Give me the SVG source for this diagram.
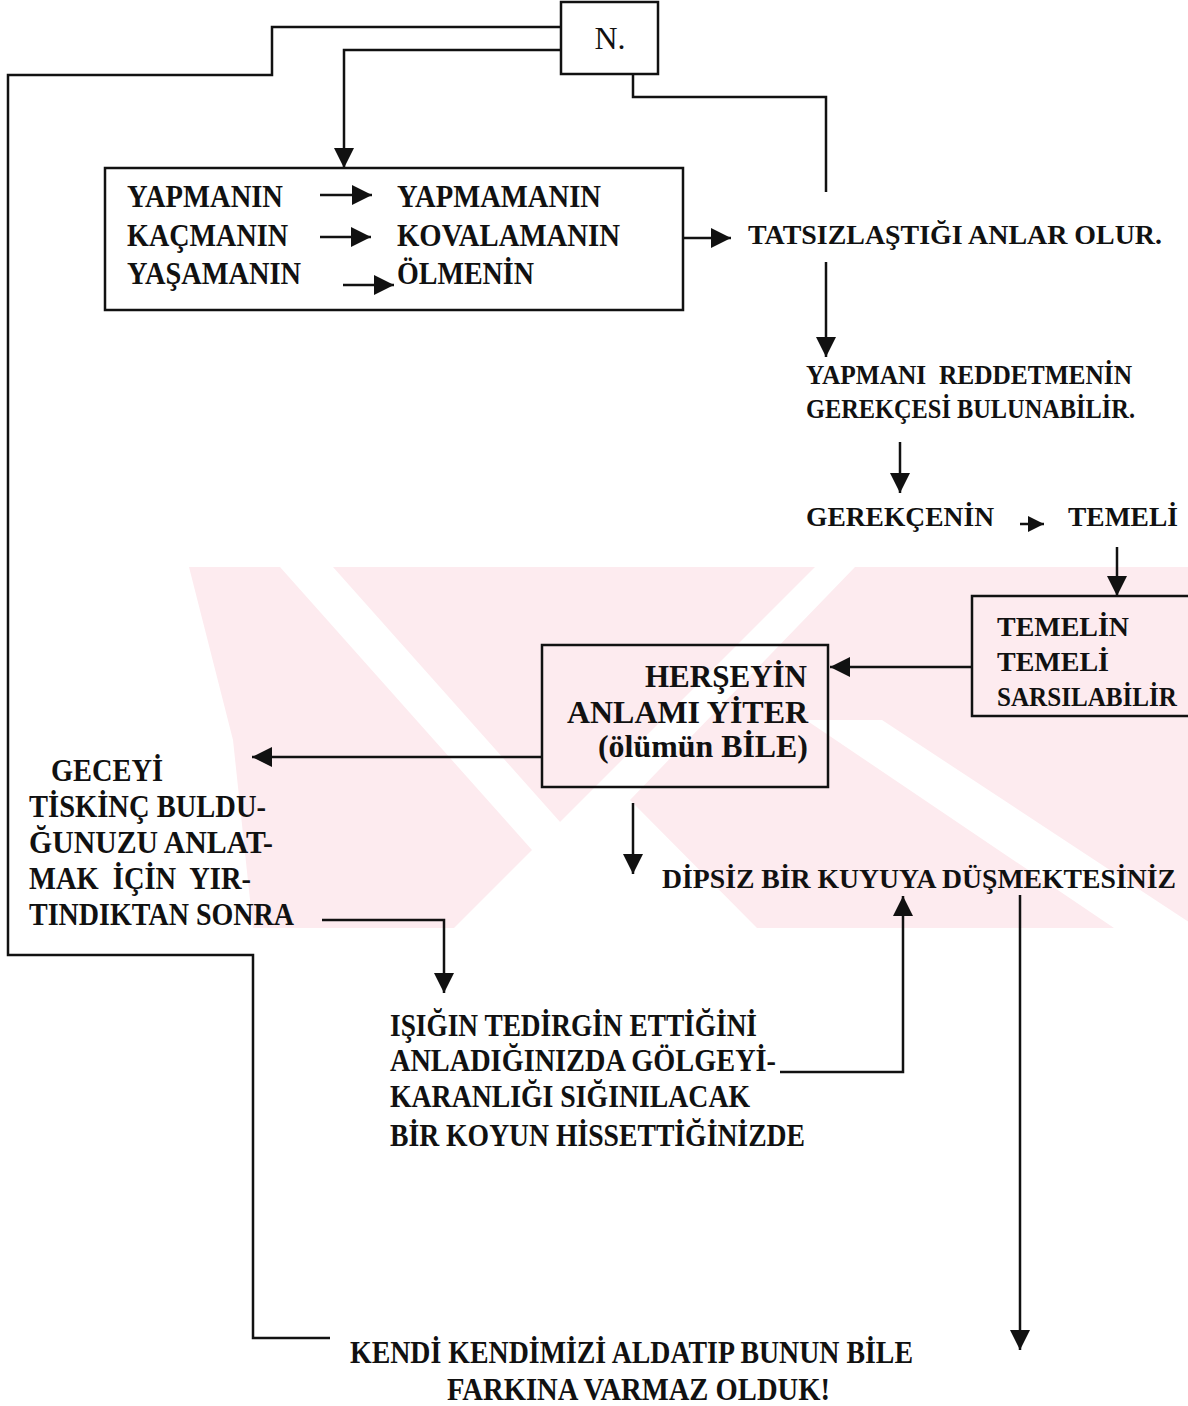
<svg xmlns="http://www.w3.org/2000/svg" width="1188" height="1406" viewBox="0 0 1188 1406">
  <style>
    .t { font-family: "Liberation Serif", "Times New Roman", serif; font-weight: bold; font-size: 31px; fill: #111; }
    .s { font-size: 28px; }
    .m { font-size: 26.5px; }
    .n { font-family: "Liberation Serif", "Times New Roman", serif; font-size: 32px; fill: #111; }
    .box { fill: none; stroke: #111; stroke-width: 2.5; }
    .ln { fill: none; stroke: #111; stroke-width: 2.5; }
    .ar { fill: none; stroke: #111; stroke-width: 2.5; marker-end: url(#ah); }
    .wm { fill: #fdebef; }
    .cut { fill: #fff; }
  </style>
  <defs>
    <marker id="ah" markerUnits="userSpaceOnUse" markerWidth="22" markerHeight="22" refX="20" refY="10" orient="auto">
      <path d="M0,0 L20,10 L0,20 Z" fill="#111"/>
    </marker>
    <marker id="ahs" markerUnits="userSpaceOnUse" markerWidth="18" markerHeight="18" refX="16" refY="8" orient="auto">
      <path d="M0,0 L16,8 L0,16 Z" fill="#111"/>
    </marker>
    <clipPath id="band">
      <rect x="0" y="567" width="1188" height="361"/>
    </clipPath>
  </defs>

  <rect width="1188" height="1406" fill="#fff"/>

  <!-- faint background emblem: pale field with diagonal white cut-outs -->
  <g id="emblem" clip-path="url(#band)">
    <polygon class="wm" points="189,567 1188,567 1188,928 253,928 233,740"/>
    <polygon class="cut" points="280,567 333,567 585,850 532,850"/>
    <polygon class="cut" points="815,567 855,567 630,800 757,928 454,928"/>
    <polygon class="cut" points="806,720 882,720 1198,928 1114,928"/>
  </g>

  <!-- connectors -->
  <g id="connectors">
    <polyline class="ln" points="562,27 272,27 272,75 8,75 8,955 253,955 253,1338 330,1338"/>
    <polyline class="ar" points="562,50 344,50 344,168"/>
    <polyline class="ln" points="633,74 633,97 826,97 826,192"/>
    <line class="ar" x1="683" y1="238" x2="731" y2="238"/>
    <line class="ar" x1="826" y1="262" x2="826" y2="357"/>
    <line class="ar" x1="900" y1="442" x2="900" y2="493"/>
    <line class="ar" x1="1020" y1="524" x2="1044" y2="524" style="marker-end:url(#ahs)"/>
    <line class="ar" x1="1117" y1="547" x2="1117" y2="596"/>
    <line class="ar" x1="972" y1="667" x2="830" y2="667"/>
    <line class="ar" x1="542" y1="757" x2="252" y2="757"/>
    <line class="ar" x1="633" y1="803" x2="633" y2="874"/>
    <polyline class="ar" points="322,920 444,920 444,993"/>
    <polyline class="ar" points="780,1072 903,1072 903,896"/>
    <line class="ar" x1="1020" y1="895" x2="1020" y2="1350"/>
  </g>

  <!-- N. -->
  <g id="node-n">
    <rect class="box" x="561" y="2" width="97" height="72"/>
    <text class="n" x="610" y="49" text-anchor="middle">N.</text>
  </g>

  <!-- pairs box -->
  <g id="node-pairs">
    <rect class="box" x="105" y="168" width="578" height="142"/>
    <text class="t" x="127" y="207" textLength="156" lengthAdjust="spacingAndGlyphs">YAPMANIN</text>
    <text class="t" x="127" y="246" textLength="161" lengthAdjust="spacingAndGlyphs">KAÇMANIN</text>
    <text class="t" x="127" y="284" textLength="174" lengthAdjust="spacingAndGlyphs">YAŞAMANIN</text>
    <text class="t" x="397" y="207" textLength="204" lengthAdjust="spacingAndGlyphs">YAPMAMANIN</text>
    <text class="t" x="397" y="246" textLength="223" lengthAdjust="spacingAndGlyphs">KOVALAMANIN</text>
    <text class="t" x="397" y="284" textLength="137" lengthAdjust="spacingAndGlyphs">ÖLMENİN</text>
    <line class="ar" x1="320" y1="195" x2="372" y2="195"/>
    <line class="ar" x1="320" y1="237" x2="371" y2="237"/>
    <line class="ar" x1="343" y1="285" x2="394" y2="285"/>
  </g>

  <g id="node-tatsiz">
    <text class="t s" x="748" y="244" textLength="414" lengthAdjust="spacingAndGlyphs">TATSIZLAŞTIĞI ANLAR OLUR.</text>
  </g>

  <g id="node-reddet">
    <text class="t s" x="806" y="384" textLength="326" lengthAdjust="spacingAndGlyphs">YAPMANI&#160; REDDETMENİN</text>
    <text class="t s" x="806" y="418" textLength="329" lengthAdjust="spacingAndGlyphs">GEREKÇESİ BULUNABİLİR.</text>
  </g>

  <g id="node-gerekce">
    <text class="t s" x="806" y="526" textLength="188" lengthAdjust="spacingAndGlyphs">GEREKÇENİN</text>
  </g>

  <g id="node-temeli">
    <text class="t m" x="1068" y="526" textLength="110" lengthAdjust="spacingAndGlyphs">TEMELİ</text>
  </g>

  <g id="node-temelin">
    <rect class="box" x="972" y="596" width="230" height="120"/>
    <text class="t m" x="997" y="636" textLength="132" lengthAdjust="spacingAndGlyphs">TEMELİN</text>
    <text class="t m" x="997" y="671" textLength="112" lengthAdjust="spacingAndGlyphs">TEMELİ</text>
    <text class="t m" x="997" y="706" textLength="180" lengthAdjust="spacingAndGlyphs">SARSILABİLİR</text>
  </g>

  <g id="node-herseyin">
    <rect class="box" x="542" y="645" width="286" height="142"/>
    <text class="t" x="645" y="687" textLength="162" lengthAdjust="spacingAndGlyphs">HERŞEYİN</text>
    <text class="t" x="567" y="723" textLength="241" lengthAdjust="spacingAndGlyphs">ANLAMI YİTER</text>
    <text class="t" x="598" y="757" textLength="210" lengthAdjust="spacingAndGlyphs">(ölümün BİLE)</text>
  </g>

  <g id="node-gece">
    <text class="t" x="51" y="781" textLength="112" lengthAdjust="spacingAndGlyphs">GECEYİ</text>
    <text class="t" x="29" y="817" textLength="237" lengthAdjust="spacingAndGlyphs">TİSKİNÇ BULDU-</text>
    <text class="t" x="29" y="853" textLength="244" lengthAdjust="spacingAndGlyphs">ĞUNUZU ANLAT-</text>
    <text class="t" x="29" y="889" textLength="222" lengthAdjust="spacingAndGlyphs">MAK&#160; İÇİN&#160; YIR-</text>
    <text class="t" x="29" y="925" textLength="265" lengthAdjust="spacingAndGlyphs">TINDIKTAN SONRA</text>
  </g>

  <g id="node-dipsiz">
    <text class="t s" x="662" y="888" textLength="514" lengthAdjust="spacingAndGlyphs">DİPSİZ BİR KUYUYA DÜŞMEKTESİNİZ</text>
  </g>

  <g id="node-isik">
    <text class="t" x="390" y="1036" textLength="367" lengthAdjust="spacingAndGlyphs">IŞIĞIN TEDİRGİN ETTİĞİNİ</text>
    <text class="t" x="390" y="1071" textLength="386" lengthAdjust="spacingAndGlyphs">ANLADIĞINIZDA GÖLGEYİ-</text>
    <text class="t" x="390" y="1107" textLength="360" lengthAdjust="spacingAndGlyphs">KARANLIĞI SIĞINILACAK</text>
    <text class="t" x="390" y="1146" textLength="415" lengthAdjust="spacingAndGlyphs">BİR KOYUN HİSSETTİĞİNİZDE</text>
  </g>

  <g id="node-kendi">
    <text class="t" x="350" y="1363" textLength="563" lengthAdjust="spacingAndGlyphs">KENDİ KENDİMİZİ ALDATIP BUNUN BİLE</text>
    <text class="t" x="447" y="1400" textLength="383" lengthAdjust="spacingAndGlyphs">FARKINA VARMAZ OLDUK!</text>
  </g>
</svg>
